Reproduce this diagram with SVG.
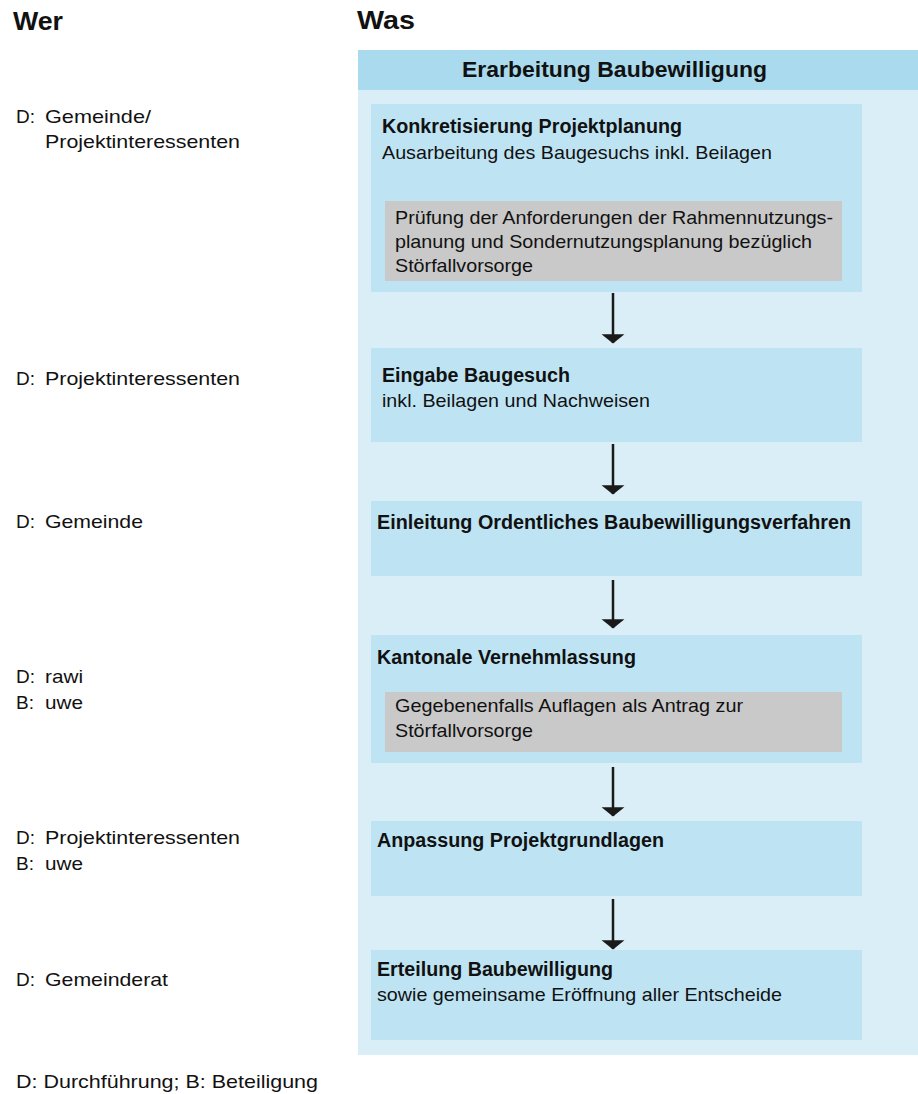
<svg xmlns="http://www.w3.org/2000/svg" width="918" height="1094" viewBox="0 0 918 1094">
  <defs>
    <style>
      text { font-family: "Liberation Sans", Arial, sans-serif; fill: #111; }
      .r { font-size: 19px; }
      .b { font-size: 19.5px; font-weight: bold; }
      .h { font-size: 22px; font-weight: bold; }
      .col { font-size: 26px; font-weight: bold; }
      .outer { fill: #d9eef7; }
      .head { fill: #a9daee; }
      .box { fill: #bee4f4; }
      .grey { fill: #c9c9c9; }
      .arrow { stroke: #1a1a1a; stroke-width: 2.5; fill: none; }
    </style>
    <marker id="ah" markerUnits="userSpaceOnUse" markerWidth="12" markerHeight="24" viewBox="0 -11 9 22" refX="8" refY="0" orient="auto">
      <path d="M0,-10.5 L8.5,0 L0,10.5 Z" fill="#1a1a1a"/>
    </marker>
  </defs>
  <rect width="918" height="1094" fill="#ffffff"/>

  <g id="col-wer"><text class="col" x="13" y="30" textLength="50" lengthAdjust="spacingAndGlyphs">Wer</text></g>
  <g id="col-was"><text class="col" x="357" y="29" textLength="58" lengthAdjust="spacingAndGlyphs">Was</text></g>

  <g id="container">
    <rect class="outer" x="358" y="50" width="560" height="1005"/>
    <rect class="head" x="358" y="50" width="560" height="40"/>
    <text class="h" x="614.5" y="77" text-anchor="middle" textLength="305" lengthAdjust="spacingAndGlyphs">Erarbeitung Baubewilligung</text>
  </g>

  <g id="who1">
    <text class="r" x="16" y="123">D:</text>
    <text class="r" x="45" y="123" textLength="106" lengthAdjust="spacingAndGlyphs">Gemeinde/</text>
    <text class="r" x="45" y="148" textLength="195" lengthAdjust="spacingAndGlyphs">Projektinteressenten</text>
  </g>
  <g id="who2">
    <text class="r" x="16" y="385">D:</text>
    <text class="r" x="45" y="385" textLength="195" lengthAdjust="spacingAndGlyphs">Projektinteressenten</text>
  </g>
  <g id="who3">
    <text class="r" x="16" y="528">D:</text>
    <text class="r" x="45" y="528" textLength="98" lengthAdjust="spacingAndGlyphs">Gemeinde</text>
  </g>
  <g id="who4">
    <text class="r" x="16" y="683">D:</text>
    <text class="r" x="45" y="683" textLength="38" lengthAdjust="spacingAndGlyphs">rawi</text>
    <text class="r" x="16" y="709">B:</text>
    <text class="r" x="45" y="709" textLength="38" lengthAdjust="spacingAndGlyphs">uwe</text>
  </g>
  <g id="who5">
    <text class="r" x="16" y="844">D:</text>
    <text class="r" x="45" y="844" textLength="195" lengthAdjust="spacingAndGlyphs">Projektinteressenten</text>
    <text class="r" x="16" y="870">B:</text>
    <text class="r" x="45" y="870" textLength="38" lengthAdjust="spacingAndGlyphs">uwe</text>
  </g>
  <g id="who6">
    <text class="r" x="16" y="986">D:</text>
    <text class="r" x="45" y="986" textLength="123" lengthAdjust="spacingAndGlyphs">Gemeinderat</text>
  </g>
  <g id="legend">
    <text class="r" x="16" y="1088" textLength="302" lengthAdjust="spacingAndGlyphs">D: Durchführung; B: Beteiligung</text>
  </g>

  <g id="step1">
    <rect class="box" x="371" y="104" width="491" height="188"/>
    <text class="b" x="382" y="133" textLength="300" lengthAdjust="spacingAndGlyphs">Konkretisierung Projektplanung</text>
    <text class="r" x="382" y="159" textLength="390" lengthAdjust="spacingAndGlyphs">Ausarbeitung des Baugesuchs inkl. Beilagen</text>
    <rect class="grey" x="385" y="201" width="457" height="80"/>
    <text class="r" x="395" y="224" textLength="438" lengthAdjust="spacingAndGlyphs">Prüfung der Anforderungen der Rahmennutzungs-</text>
    <text class="r" x="395" y="248" textLength="417" lengthAdjust="spacingAndGlyphs">planung und Sondernutzungsplanung bezüglich</text>
    <text class="r" x="395" y="272" textLength="138" lengthAdjust="spacingAndGlyphs">Störfallvorsorge</text>
  </g>
  <g id="step2">
    <rect class="box" x="371" y="348" width="491" height="94"/>
    <text class="b" x="382" y="382" textLength="188" lengthAdjust="spacingAndGlyphs">Eingabe Baugesuch</text>
    <text class="r" x="382" y="407" textLength="268" lengthAdjust="spacingAndGlyphs">inkl. Beilagen und Nachweisen</text>
  </g>
  <g id="step3">
    <rect class="box" x="371" y="501" width="491" height="75"/>
    <text class="b" x="377" y="529" textLength="474" lengthAdjust="spacingAndGlyphs">Einleitung Ordentliches Baubewilligungsverfahren</text>
  </g>
  <g id="step4">
    <rect class="box" x="371" y="635" width="491" height="128"/>
    <text class="b" x="377" y="664" textLength="259" lengthAdjust="spacingAndGlyphs">Kantonale Vernehmlassung</text>
    <rect class="grey" x="385" y="692" width="457" height="60"/>
    <text class="r" x="395" y="712" textLength="348" lengthAdjust="spacingAndGlyphs">Gegebenenfalls Auflagen als Antrag zur</text>
    <text class="r" x="395" y="737" textLength="138" lengthAdjust="spacingAndGlyphs">Störfallvorsorge</text>
  </g>
  <g id="step5">
    <rect class="box" x="371" y="821" width="491" height="75"/>
    <text class="b" x="377" y="847" textLength="287" lengthAdjust="spacingAndGlyphs">Anpassung Projektgrundlagen</text>
  </g>
  <g id="step6">
    <rect class="box" x="371" y="950" width="491" height="90"/>
    <text class="b" x="377" y="976" textLength="236" lengthAdjust="spacingAndGlyphs">Erteilung Baubewilligung</text>
    <text class="r" x="377" y="1001" textLength="405" lengthAdjust="spacingAndGlyphs">sowie gemeinsame Eröffnung aller Entscheide</text>
  </g>

  <g id="connectors">
    <line class="arrow" x1="613" y1="293" x2="613" y2="343" marker-end="url(#ah)"/>
    <line class="arrow" x1="613" y1="444" x2="613" y2="494" marker-end="url(#ah)"/>
    <line class="arrow" x1="613" y1="580" x2="613" y2="628" marker-end="url(#ah)"/>
    <line class="arrow" x1="613" y1="767" x2="613" y2="816" marker-end="url(#ah)"/>
    <line class="arrow" x1="613" y1="899" x2="613" y2="949" marker-end="url(#ah)"/>
  </g>
</svg>
